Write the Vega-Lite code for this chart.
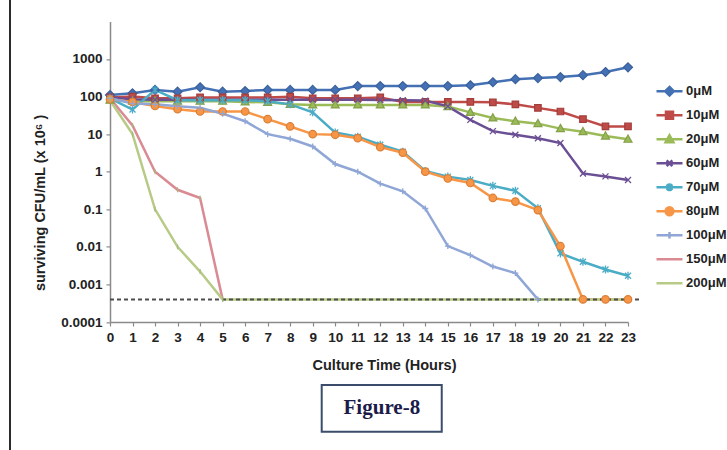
{
  "$schema": "https://vega.github.io/schema/vega-lite/v6.json",
  "autosize": "none",
  "width": 518,
  "height": 300.6,
  "padding": {"left": 110, "top": 21.4, "right": 99, "bottom": 128},
  "background": "white",
  "config": {"view": {"stroke": null}, "font": "Liberation Sans"},
  "datasets": {
    "series": [
      {"s":"0μM","h":0,"v":110},{"s":"0μM","h":1,"v":122},{"s":"0μM","h":2,"v":150},{"s":"0μM","h":3,"v":135},{"s":"0μM","h":4,"v":177},{"s":"0μM","h":5,"v":135},{"s":"0μM","h":6,"v":140},{"s":"0μM","h":7,"v":150},{"s":"0μM","h":8,"v":150},{"s":"0μM","h":9,"v":150},{"s":"0μM","h":10,"v":150},{"s":"0μM","h":11,"v":190},{"s":"0μM","h":12,"v":190},{"s":"0μM","h":13,"v":190},{"s":"0μM","h":14,"v":190},{"s":"0μM","h":15,"v":190},{"s":"0μM","h":16,"v":200},{"s":"0μM","h":17,"v":240},{"s":"0μM","h":18,"v":290},{"s":"0μM","h":19,"v":310},{"s":"0μM","h":20,"v":330},{"s":"0μM","h":21,"v":370},{"s":"0μM","h":22,"v":450},{"s":"0μM","h":23,"v":600},
      {"s":"10μM","h":0,"v":95},{"s":"10μM","h":1,"v":100},{"s":"10μM","h":2,"v":90},{"s":"10μM","h":3,"v":90},{"s":"10μM","h":4,"v":95},{"s":"10μM","h":5,"v":95},{"s":"10μM","h":6,"v":95},{"s":"10μM","h":7,"v":95},{"s":"10μM","h":8,"v":99},{"s":"10μM","h":9,"v":90},{"s":"10μM","h":10,"v":90},{"s":"10μM","h":11,"v":90},{"s":"10μM","h":12,"v":95},{"s":"10μM","h":13,"v":72},{"s":"10μM","h":14,"v":72},{"s":"10μM","h":15,"v":72},{"s":"10μM","h":16,"v":72},{"s":"10μM","h":17,"v":70},{"s":"10μM","h":18,"v":62},{"s":"10μM","h":19,"v":50},{"s":"10μM","h":20,"v":40},{"s":"10μM","h":21,"v":25},{"s":"10μM","h":22,"v":16},{"s":"10μM","h":23,"v":16},
      {"s":"20μM","h":0,"v":80},{"s":"20μM","h":1,"v":75},{"s":"20μM","h":2,"v":75},{"s":"20μM","h":3,"v":75},{"s":"20μM","h":4,"v":75},{"s":"20μM","h":5,"v":75},{"s":"20μM","h":6,"v":72},{"s":"20μM","h":7,"v":70},{"s":"20μM","h":8,"v":62},{"s":"20μM","h":9,"v":60},{"s":"20μM","h":10,"v":60},{"s":"20μM","h":11,"v":60},{"s":"20μM","h":12,"v":60},{"s":"20μM","h":13,"v":60},{"s":"20μM","h":14,"v":60},{"s":"20μM","h":15,"v":54},{"s":"20μM","h":16,"v":38},{"s":"20μM","h":17,"v":27},{"s":"20μM","h":18,"v":22},{"s":"20μM","h":19,"v":19},{"s":"20μM","h":20,"v":14},{"s":"20μM","h":21,"v":11.6},{"s":"20μM","h":22,"v":8.9},{"s":"20μM","h":23,"v":7.3},
      {"s":"60μM","h":0,"v":95},{"s":"60μM","h":1,"v":85},{"s":"60μM","h":2,"v":82},{"s":"60μM","h":3,"v":82},{"s":"60μM","h":4,"v":82},{"s":"60μM","h":5,"v":82},{"s":"60μM","h":6,"v":82},{"s":"60μM","h":7,"v":82},{"s":"60μM","h":8,"v":82},{"s":"60μM","h":9,"v":82},{"s":"60μM","h":10,"v":82},{"s":"60μM","h":11,"v":82},{"s":"60μM","h":12,"v":81},{"s":"60μM","h":13,"v":80},{"s":"60μM","h":14,"v":78},{"s":"60μM","h":15,"v":55},{"s":"60μM","h":16,"v":24},{"s":"60μM","h":17,"v":12},{"s":"60μM","h":18,"v":9.6},{"s":"60μM","h":19,"v":7.8},{"s":"60μM","h":20,"v":5.8},{"s":"60μM","h":21,"v":0.9},{"s":"60μM","h":22,"v":0.75},{"s":"60μM","h":23,"v":0.6},
      {"s":"70μM","h":0,"v":90},{"s":"70μM","h":1,"v":45},{"s":"70μM","h":2,"v":150},{"s":"70μM","h":3,"v":80},{"s":"70μM","h":4,"v":80},{"s":"70μM","h":5,"v":80},{"s":"70μM","h":6,"v":80},{"s":"70μM","h":7,"v":75},{"s":"70μM","h":8,"v":62},{"s":"70μM","h":9,"v":38},{"s":"70μM","h":10,"v":11},{"s":"70μM","h":11,"v":8.5},{"s":"70μM","h":12,"v":5.2},{"s":"70μM","h":13,"v":3.4},{"s":"70μM","h":14,"v":1.05},{"s":"70μM","h":15,"v":0.74},{"s":"70μM","h":16,"v":0.6},{"s":"70μM","h":17,"v":0.42},{"s":"70μM","h":18,"v":0.31},{"s":"70μM","h":19,"v":0.106},{"s":"70μM","h":20,"v":0.0067},{"s":"70μM","h":21,"v":0.004},{"s":"70μM","h":22,"v":0.0025},{"s":"70μM","h":23,"v":0.0017},
      {"s":"80μM","h":0,"v":85},{"s":"80μM","h":1,"v":72},{"s":"80μM","h":2,"v":56},{"s":"80μM","h":3,"v":46},{"s":"80μM","h":4,"v":40},{"s":"80μM","h":5,"v":40},{"s":"80μM","h":6,"v":40},{"s":"80μM","h":7,"v":25},{"s":"80μM","h":8,"v":16},{"s":"80μM","h":9,"v":10},{"s":"80μM","h":10,"v":9.6},{"s":"80μM","h":11,"v":7.8},{"s":"80μM","h":12,"v":4.5},{"s":"80μM","h":13,"v":3.2},{"s":"80μM","h":14,"v":1.0},{"s":"80μM","h":15,"v":0.66},{"s":"80μM","h":16,"v":0.5},{"s":"80μM","h":17,"v":0.2},{"s":"80μM","h":18,"v":0.16},{"s":"80μM","h":19,"v":0.095},{"s":"80μM","h":20,"v":0.0104},{"s":"80μM","h":21,"v":0.0004},{"s":"80μM","h":22,"v":0.0004},{"s":"80μM","h":23,"v":0.0004},
      {"s":"100μM","h":0,"v":90},{"s":"100μM","h":1,"v":65},{"s":"100μM","h":2,"v":62},{"s":"100μM","h":3,"v":55},{"s":"100μM","h":4,"v":50},{"s":"100μM","h":5,"v":35},{"s":"100μM","h":6,"v":22},{"s":"100μM","h":7,"v":10},{"s":"100μM","h":8,"v":7.5},{"s":"100μM","h":9,"v":4.7},{"s":"100μM","h":10,"v":1.6},{"s":"100μM","h":11,"v":1.0},{"s":"100μM","h":12,"v":0.48},{"s":"100μM","h":13,"v":0.3},{"s":"100μM","h":14,"v":0.105},{"s":"100μM","h":15,"v":0.0105},{"s":"100μM","h":16,"v":0.006},{"s":"100μM","h":17,"v":0.003},{"s":"100μM","h":18,"v":0.002},{"s":"100μM","h":19,"v":0.0004},
      {"s":"150μM","h":0,"v":90},{"s":"150μM","h":1,"v":17},{"s":"150μM","h":2,"v":1.0},{"s":"150μM","h":3,"v":0.33},{"s":"150μM","h":4,"v":0.2},{"s":"150μM","h":5,"v":0.0004},
      {"s":"200μM","h":0,"v":80},{"s":"200μM","h":1,"v":10},{"s":"200μM","h":2,"v":0.1},{"s":"200μM","h":3,"v":0.01},{"s":"200μM","h":4,"v":0.0022},{"s":"200μM","h":5,"v":0.0004},{"s":"200μM","h":6,"v":0.0004},{"s":"200μM","h":7,"v":0.0004},{"s":"200μM","h":8,"v":0.0004},{"s":"200μM","h":9,"v":0.0004},{"s":"200μM","h":10,"v":0.0004},{"s":"200μM","h":11,"v":0.0004},{"s":"200μM","h":12,"v":0.0004},{"s":"200μM","h":13,"v":0.0004},{"s":"200μM","h":14,"v":0.0004},{"s":"200μM","h":15,"v":0.0004},{"s":"200μM","h":16,"v":0.0004},{"s":"200μM","h":17,"v":0.0004},{"s":"200μM","h":18,"v":0.0004},{"s":"200μM","h":19,"v":0.0004},{"s":"200μM","h":20,"v":0.0004},{"s":"200μM","h":21,"v":0.0004},{"s":"200μM","h":22,"v":0.0004},{"s":"200μM","h":23,"v":0.0004}
    ],
    "lod": [{"h": 0, "h2": 23.6, "v": 0.0004}],
    "frame": [{"h": -4.44, "v": 40000, "v2": 0.00000003}],
    "box": [{"h": 9.4, "h2": 14.73, "v": 0.0000021, "v2": 0.00000012}],
    "label": [{"h": 12.07, "v": 0.00000051, "t": "Figure-8"}]
  },
  "encoding": {
    "x": {
      "field": "h", "type": "quantitative",
      "scale": {"domain": [0, 23], "nice": false, "zero": false},
      "axis": {
        "title": "Culture Time (Hours)",
        "values": [0,1,2,3,4,5,6,7,8,9,10,11,12,13,14,15,16,17,18,19,20,21,22,23],
        "grid": false, "domainColor": "#8a8a8a", "domainWidth": 1.5,
        "tickColor": "#8a8a8a", "tickSize": 4, "tickWidth": 1.2,
        "labelFont": "Liberation Sans", "labelFontWeight": "bold", "labelFontSize": 13.5, "labelColor": "#222222",
        "labelPadding": 4, "labelFlush": false, "labelOverlap": false,
        "titleFont": "Liberation Sans", "titleFontWeight": "bold", "titleFontSize": 14.5, "titleColor": "#222222",
        "titleX": 274, "titleY": 36, "titleAlign": "center", "titleBaseline": "top"
      }
    },
    "y": {
      "field": "v", "type": "quantitative",
      "scale": {"type": "log", "domain": [0.0001, 10000], "nice": false},
      "axis": {
        "title": "surviving CFU/mL (x 10⁶ )",
        "values": [0.0001, 0.001, 0.01, 0.1, 1, 10, 100, 1000],
        "format": "~g",
        "grid": false, "domainColor": "#8a8a8a", "domainWidth": 1.5,
        "tickColor": "#8a8a8a", "tickSize": 4, "tickWidth": 1.2,
        "labelFont": "Liberation Sans", "labelFontWeight": "bold", "labelFontSize": 13.5, "labelColor": "#222222",
        "labelPadding": 4,
        "titleFont": "Liberation Sans", "titleFontWeight": "bold", "titleFontSize": 14.5, "titleColor": "#222222",
        "titleAngle": -90, "titleX": -70, "titleY": 181, "titleAlign": "center", "titleBaseline": "middle"
      }
    }
  },
  "layer": [
    {
      "data": {"name": "series"},
      "mark": {"type": "line", "strokeWidth": 2.5},
      "encoding": {
        "color": {
          "field": "s", "type": "nominal",
          "scale": {
            "domain": ["0μM","10μM","20μM","60μM","70μM","80μM","100μM","150μM","200μM"],
            "range": ["#4470B4","#BE4B48","#9BBB59","#6B4F94","#4BACC6","#F79646","#8FA6D6","#D98A93","#B7CB86"]
          },
          "legend": {
            "orient": "none", "legendX": 545, "legendY": 58, "title": null, "padding": 0,
            "symbolSize": 676, "clipHeight": 23.7, "rowPadding": 0, "labelOffset": 2,
            "labelFont": "Liberation Sans", "labelFontWeight": "bold", "labelFontSize": 13, "labelColor": "#222222",
            "symbolStrokeWidth": 2.5,
            "encode": {
              "symbols": {
                "update": {
                  "shape": {"signal": "datum.value === '0μM' ? 'M-1,0H1M0,-0.33L0.33,0L0,0.33L-0.33,0Z' : datum.value === '10μM' ? 'M-1,0H1M-0.27,-0.27H0.27V0.27H-0.27Z' : datum.value === '20μM' ? 'M-1,0H1M0,-0.3L0.3,0.24L-0.3,0.24Z' : datum.value === '60μM' ? 'M-1,0H1M-0.22,-0.22L0.22,0.22M-0.22,0.22L0.22,-0.22' : datum.value === '70μM' ? 'M-1,0H1M-0.22,-0.22L0.22,0.22M-0.22,0.22L0.22,-0.22M0,-0.3V0.3' : datum.value === '80μM' ? 'M-1,0H1M-0.3,0A0.3,0.3 0 1,0 0.3,0A0.3,0.3 0 1,0 -0.3,0Z' : datum.value === '100μM' ? 'M-1,0H1M0,-0.25V0.25' : 'M-1,0H1'"},
                  "fill": {"signal": "scale('color', datum.value)"},
                  "stroke": {"signal": "scale('color', datum.value)"}
                }
              }
            }
          }
        }
      }
    },
    {
      "data": {"name": "lod"},
      "mark": {"type": "rule", "stroke": "#4d4d4d", "strokeWidth": 2, "strokeDash": [4, 3], "clip": false},
      "encoding": {"x2": {"field": "h2"}}
    },
    {
      "data": {"name": "series"},
      "transform": [{"filter": {"field": "s", "equal": "0μM"}}],
      "mark": {"type": "point", "shape": "M0,-0.9L0.9,0L0,0.9L-0.9,0Z", "size": 100, "filled": true, "fill": "#4470B4", "stroke": "#3A609C", "strokeWidth": 1.2, "opacity": 1},
      "encoding": {}
    },
    {
      "data": {"name": "series"},
      "transform": [{"filter": {"field": "s", "equal": "10μM"}}],
      "mark": {"type": "point", "shape": "M-0.65,-0.65H0.65V0.65H-0.65Z", "size": 100, "filled": true, "fill": "#BE4B48", "stroke": "#A33E3B", "strokeWidth": 1.2, "opacity": 1},
      "encoding": {}
    },
    {
      "data": {"name": "series"},
      "transform": [{"filter": {"field": "s", "equal": "20μM"}}],
      "mark": {"type": "point", "shape": "M0,-0.85L0.8,0.6L-0.8,0.6Z", "size": 100, "filled": true, "fill": "#9BBB59", "stroke": "#84A049", "strokeWidth": 1.2, "opacity": 1},
      "encoding": {}
    },
    {
      "data": {"name": "series"},
      "transform": [{"filter": {"field": "s", "equal": "60μM"}}],
      "mark": {"type": "point", "shape": "M-0.6,-0.6L0.6,0.6M-0.6,0.6L0.6,-0.6", "size": 100, "filled": false, "stroke": "#6B4F94", "strokeWidth": 1.3, "opacity": 1},
      "encoding": {}
    },
    {
      "data": {"name": "series"},
      "transform": [{"filter": {"field": "s", "equal": "70μM"}}],
      "mark": {"type": "point", "shape": "M-0.6,-0.6L0.6,0.6M-0.6,0.6L0.6,-0.6M0,-0.8V0.8", "size": 100, "filled": false, "stroke": "#4BACC6", "strokeWidth": 1.3, "opacity": 1},
      "encoding": {}
    },
    {
      "data": {"name": "series"},
      "transform": [{"filter": {"field": "s", "equal": "80μM"}}],
      "mark": {"type": "point", "shape": "M-0.75,0A0.75,0.75 0 1,0 0.75,0A0.75,0.75 0 1,0 -0.75,0Z", "size": 100, "filled": true, "fill": "#F79646", "stroke": "#D97E37", "strokeWidth": 1.2, "opacity": 1},
      "encoding": {}
    },
    {
      "data": {"name": "series"},
      "transform": [{"filter": {"field": "s", "equal": "100μM"}}],
      "mark": {"type": "point", "shape": "M-0.6,0H0.6M0,-0.6V0.6", "size": 100, "filled": false, "stroke": "#8FA6D6", "strokeWidth": 1.3, "opacity": 1},
      "encoding": {}
    },
    {
      "data": {"name": "series"},
      "transform": [{"filter": {"field": "s", "oneOf": ["150μM", "200μM"]}}, {"filter": {"field": "h", "lte": 5}}],
      "mark": {"type": "point", "shape": "M0,-0.5V0.5", "size": 100, "filled": false, "stroke": "#A8B77E", "strokeWidth": 1.2, "opacity": 1},
      "encoding": {}
    },
    {
      "data": {"name": "frame"},
      "mark": {"type": "rule", "stroke": "#2b2b2b", "strokeWidth": 2, "clip": false},
      "encoding": {"y2": {"field": "v2"}}
    },
    {
      "data": {"name": "box"},
      "mark": {"type": "rect", "fill": "white", "stroke": "#3B4D6B", "strokeWidth": 2, "clip": false},
      "encoding": {"x2": {"field": "h2"}, "y2": {"field": "v2"}}
    },
    {
      "data": {"name": "label"},
      "mark": {"type": "text", "font": "Liberation Serif", "fontWeight": "bold", "fontSize": 21, "color": "#1C1C4A", "align": "center", "baseline": "middle", "clip": false},
      "encoding": {"text": {"field": "t"}}
    }
  ]
}
